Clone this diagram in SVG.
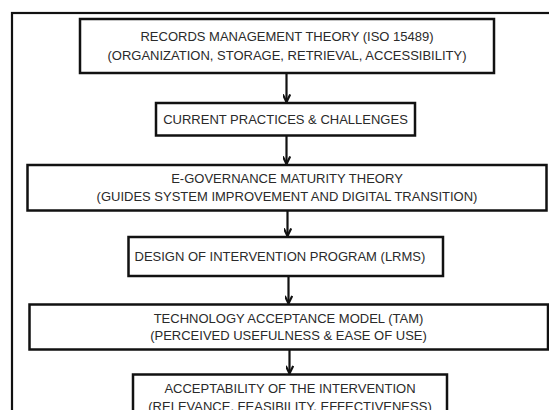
<svg xmlns="http://www.w3.org/2000/svg" width="549" height="410" viewBox="0 0 549 410">
  <defs>
    <style>
      .box { fill: #ffffff; stroke: #111111; stroke-width: 2.5; }
      .frame { fill: none; stroke: #111111; stroke-width: 2.2; }
      .lbl { font-family: "Liberation Sans", Arial, sans-serif; font-size: 13px; fill: #2a2a2a; text-anchor: middle; }
      .lbl-l { font-family: "Liberation Sans", Arial, sans-serif; font-size: 13px; fill: #2a2a2a; text-anchor: start; }
      .conn { stroke: #111111; stroke-width: 2.2; fill: none; marker-end: url(#arrow); }
    </style>
    <marker id="arrow" markerWidth="10" markerHeight="8" refX="8.6" refY="4" orient="auto" markerUnits="userSpaceOnUse" viewBox="0 0 10 8">
      <path d="M1,0.3 L8.6,4 L1,7.7" fill="none" stroke="#111111" stroke-width="2.2" stroke-linejoin="miter"/>
    </marker>
  </defs>
  <rect width="549" height="410" fill="#ffffff"/>
  <rect class="frame" x="12" y="13" width="570" height="430"/>

  <g id="connectors">
    <line class="conn" x1="286.5" y1="73" x2="286.5" y2="102"/>
    <line class="conn" x1="286.5" y1="136" x2="286.5" y2="164"/>
    <line class="conn" x1="287.5" y1="211" x2="287.5" y2="236"/>
    <line class="conn" x1="288.5" y1="276.5" x2="288.5" y2="303.5"/>
    <line class="conn" x1="289.5" y1="350" x2="289.5" y2="373.5"/>
  </g>

  <g id="node-records">
    <rect class="box" x="80" y="19" width="414" height="54"/>
    <text class="lbl" x="287" y="41">RECORDS MANAGEMENT THEORY (ISO 15489)</text>
    <text class="lbl" x="287" y="59.5">(ORGANIZATION, STORAGE, RETRIEVAL, ACCESSIBILITY)</text>
  </g>

  <g id="node-practices">
    <rect class="box" x="156" y="103" width="259" height="32.5"/>
    <text class="lbl" x="285.5" y="123.8">CURRENT PRACTICES &amp; CHALLENGES</text>
  </g>

  <g id="node-egov">
    <rect class="box" x="27.5" y="165" width="519" height="45.5"/>
    <text class="lbl" x="287" y="183">E-GOVERNANCE MATURITY THEORY</text>
    <text class="lbl" x="287" y="200.5">(GUIDES SYSTEM IMPROVEMENT AND DIGITAL TRANSITION)</text>
  </g>

  <g id="node-design">
    <rect class="box" x="128.5" y="237" width="314.5" height="39"/>
    <text class="lbl-l" x="134.5" y="261.2">DESIGN OF INTERVENTION PROGRAM (LRMS)</text>
  </g>

  <g id="node-tam">
    <rect class="box" x="29.5" y="304.5" width="518.5" height="45"/>
    <text class="lbl" x="288.5" y="322.5">TECHNOLOGY ACCEPTANCE MODEL (TAM)</text>
    <text class="lbl" x="288.5" y="339.5">(PERCEIVED USEFULNESS &amp; EASE OF USE)</text>
  </g>

  <g id="node-acceptability">
    <rect class="box" x="133" y="374.5" width="314" height="50"/>
    <text class="lbl" x="290" y="393">ACCEPTABILITY OF THE INTERVENTION</text>
    <text class="lbl" x="290" y="410.5">(RELEVANCE, FEASIBILITY, EFFECTIVENESS)</text>
  </g>
</svg>
